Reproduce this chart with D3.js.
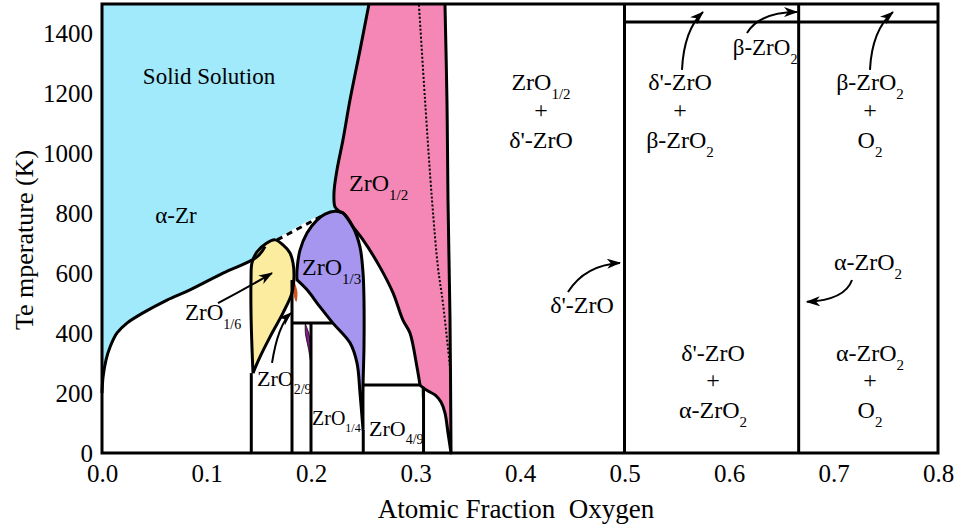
<!DOCTYPE html>
<html><head><meta charset="utf-8">
<script src="https://cdn.jsdelivr.net/npm/d3@7"></script>
<style>
body{margin:0;background:#fff}
svg{display:block}
</style>
</head><body>
<svg id="chart" width="958" height="527"></svg>
<script>
// Axis ticks
const xTicks = [0, 0.1, 0.2, 0.3, 0.4, 0.5, 0.6, 0.7, 0.8];
const yTicks = [0, 200, 400, 600, 800, 1000, 1200, 1400];

// Line compounds (atomic fraction O) and transition temperatures (K)
const compoundX = {ZrO16: 1/7, ZrO29: 2/11, ZrO14: 0.2, ZrO13: 0.25, ZrO49: 4/13, ZrO12: 0.334, ZrO: 0.5, ZrO2: 2/3};
const compoundTop = {ZrO16: 267, ZrO29: 578, ZrO14: 434, ZrO13: 77, ZrO49: 221};
const peritectic14 = [[2/11, 434], [0.221, 434]];
const peritectic49 = [[0.25, 227], [0.3043, 227]];
const betaZrO2T = 1440;

// alpha-Zr solvus (x, T)
const solvus = [[0,200],[0.001,254],[0.0038,310],[0.0077,354],[0.0144,401],[0.0239,434],[0.0392,468],
  [0.0622,511],[0.0842,545],[0.1158,601],[0.1483,655],[0.1560,690]];
// metastable extension between the ZrO1/6 and ZrO1/3 domes
const dashedBoundary = [[0.1675,712],[0.2105,792]];

// ZrO1/6 dome
const domeZrO16 = [[0.1445,267],[0.1435,354],[0.1426,468],[0.1426,578],[0.1435,635],[0.1483,672],[0.1570,700],
  [0.1656,712],[0.1732,695],[0.1799,668],[0.1828,635],[0.1837,588],[0.1818,535],[0.1732,468],[0.1608,388],
  [0.1512,321],[0.1445,267]];

// ZrO1/3 dome
const domeZrO13Lower = [[0.2498,77],[0.2469,200],[0.244,301],[0.2373,368],[0.221,434],[0.2086,488],[0.1962,545],[0.1866,578]];
const domeZrO13Upper = [[0.1866,578],[0.1866,611],[0.1895,678],[0.1962,735],[0.2057,778],[0.2134,798],[0.223,808],
  [0.2306,802],[0.2402,755],[0.2469,688],[0.2498,601],[0.2507,511],[0.2507,354],[0.2498,220],[0.2498,77]];

// ZrO1/2 field
const zro12Left = [[0.2555,1500],[0.2469,1346],[0.2373,1179],[0.2306,1046],[0.2249,946],[0.222,869],[0.223,822],[0.2278,805]];
const zro12Shared = [[0.2278,805],[0.2306,802],[0.2402,755]];
const zro12Lower = [[0.2402,755],[0.2498,712],[0.266,621],[0.2785,535],[0.288,444],[0.2947,401],[0.3014,287],[0.3043,227]];
const zro12Foot = [[0.3043,227],[0.3062,221],[0.3120,207],[0.3187,194],[0.3244,170],[0.3282,134],[0.3311,67],[0.334,0]];
const zro12Right = [[0.334,0],[0.333,454],[0.3311,845],[0.3301,1179],[0.3282,1500]];
const zro12Dotted = [[0.3033,1497],[0.3091,1180],[0.3158,845],[0.3215,620],[0.3263,500],[0.3330,287]];

// narrow single-phase slivers
const sliverZrO29 = [[0.1847,568],[0.1870,538],[0.1860,505],[0.1835,528],[0.1847,568]];
const sliverZrO14 = [[0.1945,431],[0.1978,401],[0.1996,361],[0.2,300],[0.1975,350],[0.1947,398],[0.1945,431]];
const sliverZrO49 = [[0.3058,218],[0.3074,195],[0.3079,158],[0.3062,182],[0.3058,218]];

// Field labels: x, T (baseline), main text, subscript
const labels = [
  {x:0.1024, T:1232, t:"Solid Solution", s:"", size:23, a:"middle"},
  {x:0.0708, T:770, t:"α-Zr", s:"", size:23, a:"middle"},
  {x:0.2364, T:875, t:"ZrO", s:"1/2", size:24, a:"start"},
  {x:0.1914, T:595, t:"ZrO", s:"1/3", size:24, a:"start"},
  {x:0.0794, T:444, t:"ZrO", s:"1/6", size:23, a:"start"},
  {x:0.1483, T:224, t:"ZrO", s:"2/9", size:22, a:"start"},
  {x:0.2010, T:94, t:"ZrO", s:"1/4", size:20, a:"start"},
  {x:0.2555, T:57, t:"ZrO", s:"4/9", size:22, a:"start"},
  {x:0.4201, T:1213, t:"ZrO", s:"1/2", size:24, a:"middle"},
  {x:0.4201, T:1120, t:"+", s:"", size:24, a:"middle"},
  {x:0.4201, T:1020, t:"δ'-ZrO", s:"", size:24, a:"middle"},
  {x:0.5531, T:1213, t:"δ'-ZrO", s:"", size:24, a:"middle"},
  {x:0.5531, T:1120, t:"+", s:"", size:24, a:"middle"},
  {x:0.5531, T:1020, t:"β-ZrO", s:"2", size:24, a:"middle"},
  {x:0.6345, T:1330, t:"β-ZrO", s:"2", size:23, a:"middle"},
  {x:0.7349, T:1213, t:"β-ZrO", s:"2", size:24, a:"middle"},
  {x:0.7349, T:1120, t:"+", s:"", size:24, a:"middle"},
  {x:0.7349, T:1020, t:"O", s:"2", size:24, a:"middle"},
  {x:0.4593, T:467, t:"δ'-ZrO", s:"", size:24, a:"middle"},
  {x:0.7330, T:611, t:"α-ZrO", s:"2", size:24, a:"middle"},
  {x:0.5847, T:307, t:"δ'-ZrO", s:"", size:24, a:"middle"},
  {x:0.5847, T:217, t:"+", s:"", size:24, a:"middle"},
  {x:0.5847, T:117, t:"α-ZrO", s:"2", size:24, a:"middle"},
  {x:0.7349, T:307, t:"α-ZrO", s:"2", size:24, a:"middle"},
  {x:0.7349, T:217, t:"+", s:"", size:24, a:"middle"},
  {x:0.7349, T:117, t:"O", s:"2", size:24, a:"middle"}
];

// Pointer arrows: start, control, end (x, T)
const arrows = [
  [[0.111,501],[0.137,548],[0.1627,601]],
  [[0.1627,301],[0.1684,428],[0.1809,468]],
  [[0.4459,538],[0.4622,628],[0.4957,635]],
  [[0.555,1280],[0.5569,1413],[0.5751,1473]],
  [[0.6172,1403],[0.6297,1473],[0.6651,1473]],
  [[0.7349,1280],[0.7368,1413],[0.7569,1473]],
  [[0.7177,578],[0.7110,511],[0.6746,505]]
];

const SERIF = '"Liberation Serif", "Times New Roman", Times, serif';
const svg = d3.select("#chart").attr("font-family", SERIF);
const x = d3.scaleLinear().domain([0, 0.8]).range([102, 938]);
const y = d3.scaleLinear().domain([0, 1500]).range([453, 4]);

const curve = d3.line().x(d => x(d[0])).y(d => y(d[1])).curve(d3.curveCatmullRom.alpha(0.5));
const straight = d3.line().x(d => x(d[0])).y(d => y(d[1]));
const joined = (segs, close) => segs.map((s, i) => {
  const p = curve(s); return i === 0 ? p : p.replace(/^M/, "L");
}).join("") + (close ? "Z" : "");

const cyan = "#a0eafc", pink = "#f587b7", purple = "#a696ef", yellow = "#fcec9f";

// filled fields
svg.append("path").attr("fill", cyan)
  .attr("d", joined([[[0,1500],[0,200]], solvus, [solvus[solvus.length-1],[0.1656,712],[0.2134,800],[0.2278,805]],
    zro12Left.slice().reverse()], true));
svg.append("path").attr("fill", pink)
  .attr("d", joined([zro12Left, zro12Shared, zro12Lower, zro12Foot, zro12Right], true));
svg.append("path").attr("fill", purple).attr("d", joined([domeZrO13Lower, domeZrO13Upper], true));
svg.append("path").attr("fill", yellow).attr("d", curve(domeZrO16));
svg.append("path").attr("fill", "#d4511f").attr("d", curve(sliverZrO29));
svg.append("path").attr("fill", "#8a1a8f").attr("stroke", "#000").attr("stroke-width", 0.8).attr("d", curve(sliverZrO14));
svg.append("path").attr("fill", "#3b9b3b").attr("d", curve(sliverZrO49));

// dotted line inside ZrO1/2
svg.append("path").attr("fill", "none").attr("stroke", "#000").attr("stroke-width", 2)
  .attr("stroke-dasharray", "2,2").attr("d", curve(zro12Dotted));

// phase boundaries
const g = svg.append("g").attr("fill", "none").attr("stroke", "#000").attr("stroke-width", 3)
  .attr("stroke-linejoin", "round");
g.append("path").attr("d", curve(solvus));
g.append("path").attr("d", curve(domeZrO16));
g.append("path").attr("d", joined([domeZrO13Lower, domeZrO13Upper], true));
g.append("path").attr("d", joined([zro12Left, zro12Shared, zro12Lower, zro12Foot, zro12Right], false));
g.append("path").attr("stroke-dasharray", "6,5").attr("d", straight(dashedBoundary));
["ZrO16", "ZrO29", "ZrO14", "ZrO13", "ZrO49"].forEach(k => {
  g.append("path").attr("d", straight([[compoundX[k], 0], [compoundX[k], compoundTop[k]]]));
});
[compoundX.ZrO, compoundX.ZrO2].forEach(v => g.append("path").attr("d", straight([[v, 0], [v, 1500]])));
g.append("path").attr("d", straight(peritectic14));
g.append("path").attr("d", straight(peritectic49));
g.append("path").attr("d", straight([[0.5, betaZrO2T], [0.8, betaZrO2T]]));

// frame
svg.append("rect").attr("x", x(0)).attr("y", y(1500)).attr("width", x(0.8) - x(0)).attr("height", y(0) - y(1500))
  .attr("fill", "none").attr("stroke", "#000").attr("stroke-width", 3);

// arrows
svg.append("defs").append("marker").attr("id", "head").attr("viewBox", "0 0 14 10")
  .attr("refX", 13).attr("refY", 5).attr("markerWidth", 14).attr("markerHeight", 10)
  .attr("markerUnits", "userSpaceOnUse").attr("orient", "auto")
  .append("path").attr("d", "M0,0 L14,5 L0,10 L4,5 Z").attr("fill", "#000");
svg.append("g").selectAll("path").data(arrows).join("path")
  .attr("fill", "none").attr("stroke", "#000").attr("stroke-width", 2).attr("marker-end", "url(#head)")
  .attr("d", a => `M${x(a[0][0])},${y(a[0][1])} Q${x(a[1][0])},${y(a[1][1])} ${x(a[2][0])},${y(a[2][1])}`);

// labels
const lt = svg.append("g").selectAll("text").data(labels).join("text")
  .attr("x", d => x(d.x)).attr("y", d => y(d.T)).attr("text-anchor", d => d.a)
  .attr("font-family", SERIF).attr("fill", "#000")
  .attr("font-size", d => d.size);
lt.append("tspan").text(d => d.t);
lt.filter(d => d.s).append("tspan").attr("dy", d => d.size * 0.38).attr("font-size", d => Math.round(d.size * 0.62))
  .text(d => d.s);

// axes
const xAxis = d3.axisBottom(x).tickValues(xTicks).tickFormat(d3.format(".1f")).tickSize(0).tickPadding(11);
const yAxis = d3.axisLeft(y).tickValues(yTicks).tickFormat(d3.format("d")).tickSize(0).tickPadding(9);
const gx = svg.append("g").attr("transform", `translate(0,${y(0)})`).call(xAxis);
const gy = svg.append("g").attr("transform", `translate(${x(0)},0)`).call(yAxis);
[gx, gy].forEach(a => {
  a.attr("font-family", SERIF).attr("font-size", 25);
  a.select(".domain").remove();
  a.selectAll("text").attr("fill", "#000");
});

svg.append("text").attr("x", 516).attr("y", 518).attr("text-anchor", "middle")
  .attr("font-family", SERIF).attr("font-size", 27)
  .style("white-space", "pre").text("Atomic Fraction  Oxygen");
svg.append("text").attr("transform", "translate(33,240) rotate(-90)").attr("text-anchor", "middle")
  .attr("font-family", SERIF).attr("font-size", 26)
  .style("white-space", "pre").text("Te mperature (K)");
</script>
</body></html>
